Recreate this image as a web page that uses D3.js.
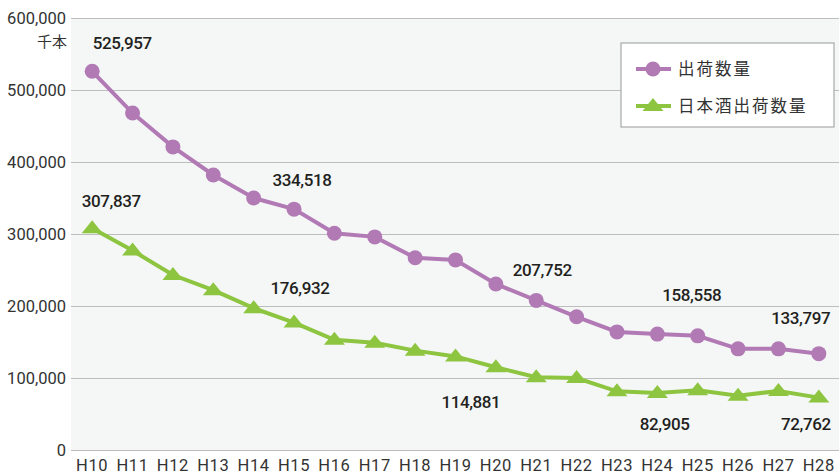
<!DOCTYPE html>
<html><head><meta charset="utf-8">
<script src="https://cdn.jsdelivr.net/npm/d3@7"></script>
<style>
html,body{margin:0;padding:0;background:#fff;}
svg{display:block;}
.tick text{font-family:"Liberation Sans Narrow","Roboto",sans-serif;}
</style>
</head><body>
<svg id="chart" width="839" height="476"></svg>
<script>
// ---- data ----
const categories = ["H10","H11","H12","H13","H14","H15","H16","H17","H18","H19","H20","H21","H22","H23","H24","H25","H26","H27","H28"];
const shipments = [525957,468000,421000,382000,350000,334518,301000,296000,267000,264000,230500,207752,185000,164000,161000,158558,140500,140500,133797];
const sakeShipments = [307837,277000,243000,222000,197000,176932,153000,149000,138000,130000,114881,101000,100000,81500,79000,82905,75500,82000,72762];
const yTicks = [0,100000,200000,300000,400000,500000,600000];
const seriesNames = ["出荷数量","日本酒出荷数量"];
const unitLabel = "千本";

// ---- layout ----
const svg = d3.select("#chart");
const W = 839, H = 476;
const m = {left:72, right:0, top:18, bottom:26};
const iw = W - m.left - m.right, ih = H - m.top - m.bottom;
const purple = "#b27ab5", green = "#8dc540";
const textCol = "#231f20";

const x = d3.scaleBand().domain(categories).range([m.left, W - m.right]);
const y = d3.scaleLinear().domain([0,600000]).range([H - m.bottom, m.top]);
const cx = c => x(c) + x.bandwidth()/2;

// plot background
svg.append("rect").attr("x", m.left-1).attr("y", m.top).attr("width", iw+1).attr("height", ih).attr("fill", "#f5f7f7");

// y grid + labels
const yAxis = d3.axisLeft(y).tickValues(yTicks).tickSize(-(iw+1)).tickPadding(5)
  .tickFormat(d => d3.format(",")(d));
const gy = svg.append("g").attr("transform", `translate(${m.left-1},0)`).call(yAxis);
gy.select(".domain").remove();
gy.selectAll(".tick line").attr("stroke", "#bdbdbd").attr("stroke-width", 1.2);
gy.selectAll(".tick text").attr("fill", "#333").attr("font-size", 16.5).attr("dy", "0.34em");

// unit label
svg.append("text").attr("x", 67).attr("y", 47).attr("text-anchor", "end")
  .attr("font-family", "'Noto Sans CJK JP',sans-serif").attr("font-size", 15).attr("fill", "#333")
  .text(unitLabel);

// x axis labels
const xAxis = d3.axisBottom(x).tickSize(0).tickPadding(9);
const gx = svg.append("g").attr("transform", `translate(0,${H - m.bottom})`).call(xAxis);
gx.select(".domain").remove();
gx.selectAll(".tick text").attr("fill", "#333").attr("font-size", 16.5).attr("letter-spacing", 0.6);

// lines
const line = d3.line().x((d,i) => cx(categories[i])).y(d => y(d));
svg.append("path").datum(shipments).attr("d", line).attr("fill","none").attr("stroke", purple).attr("stroke-width", 4);
svg.append("path").datum(sakeShipments).attr("d", line).attr("fill","none").attr("stroke", green).attr("stroke-width", 4);

// markers
svg.append("g").selectAll("circle").data(shipments).join("circle")
  .attr("cx", (d,i) => cx(categories[i])).attr("cy", d => y(d)).attr("r", 7.5).attr("fill", purple);
const tri = "M0,-8L10.5,5L-10.5,5Z";
svg.append("g").selectAll("path").data(sakeShipments).join("path")
  .attr("d", tri).attr("transform", (d,i) => `translate(${cx(categories[i])},${y(d)})`).attr("fill", green);

// value labels
const fmt = d3.format(",");
const labelSpecs = [
  {s:shipments, i:0, dx:30, dy:-22},
  {s:shipments, i:5, dx:8, dy:-23},
  {s:shipments, i:11, dx:6, dy:-24},
  {s:shipments, i:15, dx:-6, dy:-35},
  {s:shipments, i:18, dx:-18, dy:-30},
  {s:sakeShipments, i:0, dx:19, dy:-21},
  {s:sakeShipments, i:5, dx:6, dy:-29},
  {s:sakeShipments, i:10, dx:-25, dy:41},
  {s:sakeShipments, i:15, dx:-33, dy:40},
  {s:sakeShipments, i:18, dx:-13, dy:32}
];
svg.append("g").selectAll("text").data(labelSpecs).join("text")
  .attr("x", d => cx(categories[d.i]) + d.dx).attr("y", d => y(d.s[d.i]) + d.dy)
  .attr("text-anchor", "middle").attr("font-family", "Roboto,sans-serif").attr("font-weight", 500)
  .attr("font-size", 17).attr("letter-spacing", -0.4).attr("fill", textCol)
  .text(d => fmt(d.s[d.i]));

// legend
const lg = svg.append("g");
lg.append("rect").attr("x", 621).attr("y", 43).attr("width", 213).attr("height", 84)
  .attr("fill", "#fff").attr("stroke", "#a8a8a8").attr("stroke-width", 1.2);
const items = [{name:seriesNames[0], color:purple, shape:"circle"},{name:seriesNames[1], color:green, shape:"tri"}];
items.forEach((it, k) => {
  const yy = 69 + k*37;
  lg.append("line").attr("x1", 636).attr("x2", 671).attr("y1", yy).attr("y2", yy).attr("stroke", it.color).attr("stroke-width", 4);
  if (it.shape === "circle") lg.append("circle").attr("cx", 653).attr("cy", yy).attr("r", 7.5).attr("fill", it.color);
  else lg.append("path").attr("d", tri).attr("transform", `translate(653,${yy})`).attr("fill", it.color);
  lg.append("text").attr("x", 678).attr("y", yy).attr("dy", "0.36em")
    .attr("font-family", "'Noto Sans CJK JP',sans-serif").attr("font-size", 16.5).attr("letter-spacing", 2)
    .attr("fill", "#333").text(it.name);
});
</script>
</body></html>
